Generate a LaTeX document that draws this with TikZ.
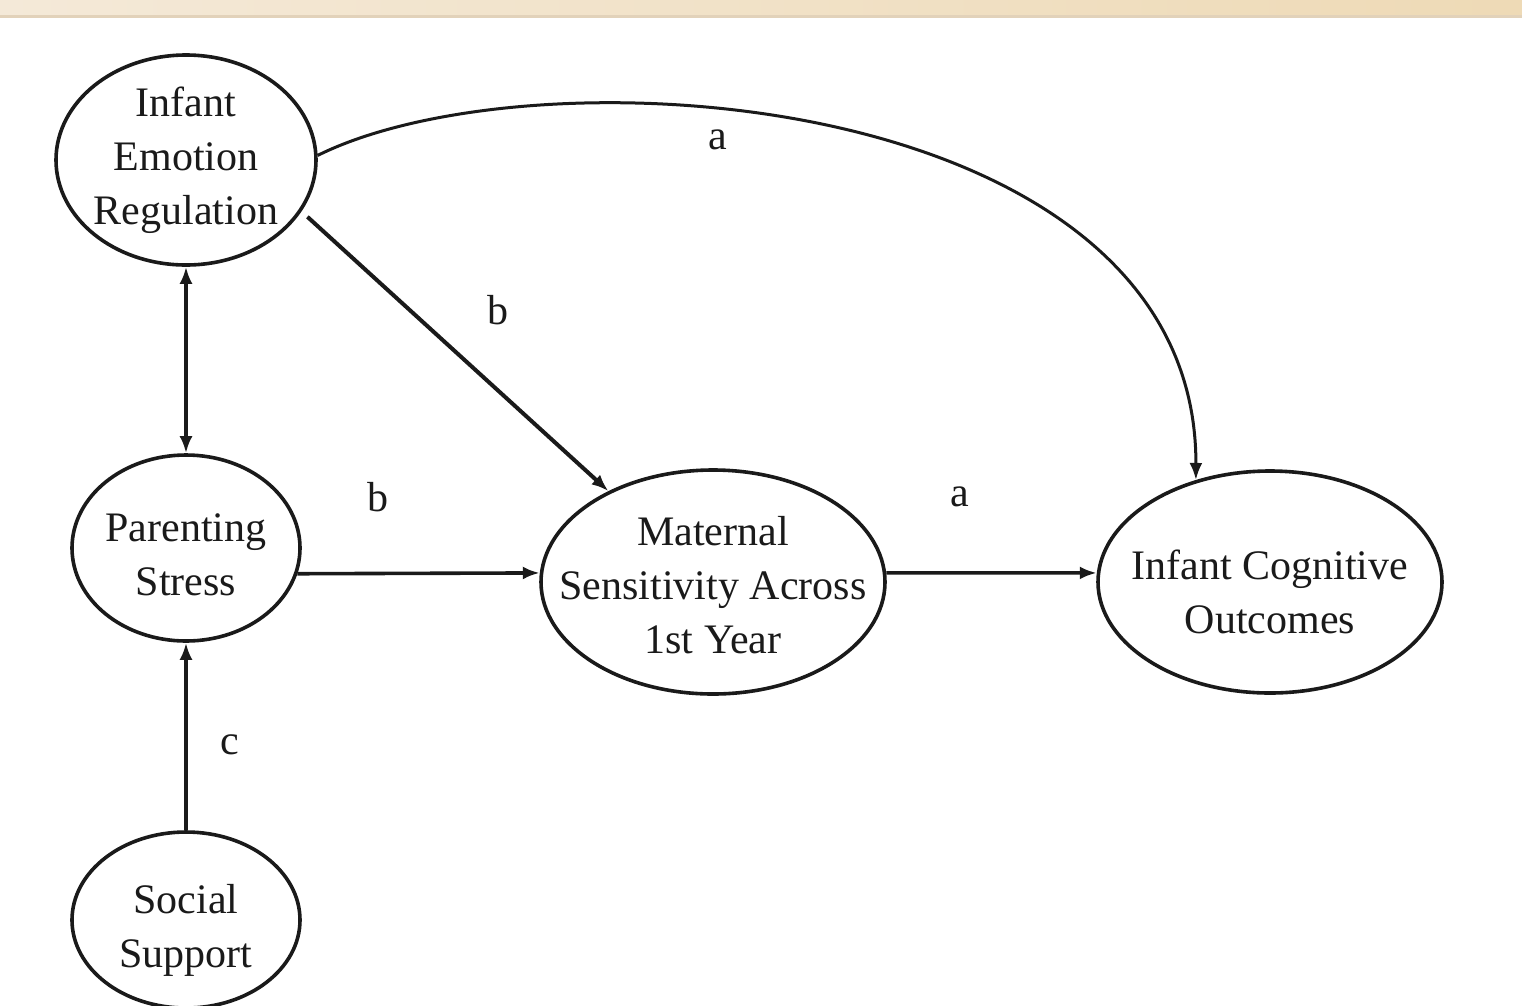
\documentclass[tikz,border=0pt]{standalone}
\usepackage{fontspec}
\setmainfont{Liberation Serif}
\usetikzlibrary{shapes.geometric,arrows.meta}
\definecolor{bandL}{HTML}{F4E9D8}
\definecolor{bandR}{HTML}{EEDAB6}
\definecolor{bandS}{HTML}{E2D2BA}
\definecolor{ink}{HTML}{1A1A1A}
\begin{document}
\begin{tikzpicture}[x=1pt,y=-1pt,
  var/.style={ellipse,draw=ink,line width=3.6pt,inner sep=0pt},
  txt/.style={font=\fontsize{42}{54}\selectfont,align=center,text=ink},
  tip/.style={Latex[length=17pt,width=13pt]},
  conn/.style={draw=ink,line width=3.6pt,-{Latex[length=17pt,width=13pt]}},
  lab/.style={font=\fontsize{42}{50}\selectfont,text=ink,inner sep=0pt}]
\useasboundingbox (0,0) rectangle (1522,1005);
\clip (0,0) rectangle (1522,1005);
\fill[white] (0,0) rectangle (1522,1005);
\shade[left color=bandL,right color=bandR] (0,0) rectangle (1522,17);
\fill[bandS] (0,15) rectangle (1522,18);

\node[var,minimum width=260pt,minimum height=210pt,
  label={[txt]center:Infant\\Emotion\\Regulation}] (ier) at (186,160) {};
\node[var,minimum width=228pt,minimum height=186pt,
  label={[txt,yshift=-7pt]center:Parenting\\Stress}] (ps) at (186,548) {};
\node[var,minimum width=344pt,minimum height=224pt,
  label={[txt,yshift=-3pt]center:Maternal\\Sensitivity Across\\1st Year}] (ms) at (713,582) {};
\node[var,minimum width=344pt,minimum height=222pt,
  label={[txt,yshift=-10pt]center:Infant Cognitive\\Outcomes}] (ico) at (1270,582) {};
\node[var,minimum width=228pt,minimum height=176pt,
  label={[txt,yshift=-10pt]center:Social\\Support}] (ss) at (186,920) {};

% connectors
\draw[conn,{Latex[length=17pt,width=13pt]}-{Latex[length=17pt,width=13pt]}] (ier.south) -- (ps.north);
\draw[conn,line width=4pt,shorten <=8pt] (ier.-24) -- (ms.139);
\draw[conn] (ps.-13) -- (ms.177);
\draw[conn] (ms.3) -- (ico.177);
\draw[conn] (ss.north) -- (ps.south);
\draw[conn,line width=3pt] (ier.2) .. controls (540,45) and (1197,90) .. (ico.126);

% labels
\node[lab] (la1) at (718,140) {a};
\node[lab] (lb1) at (498,310) {b};
\node[lab] (lb2) at (378,497) {b};
\node[lab] (la2) at (960,497) {a};
\node[lab] (lc) at (230,745) {c};
\end{tikzpicture}
\end{document}
